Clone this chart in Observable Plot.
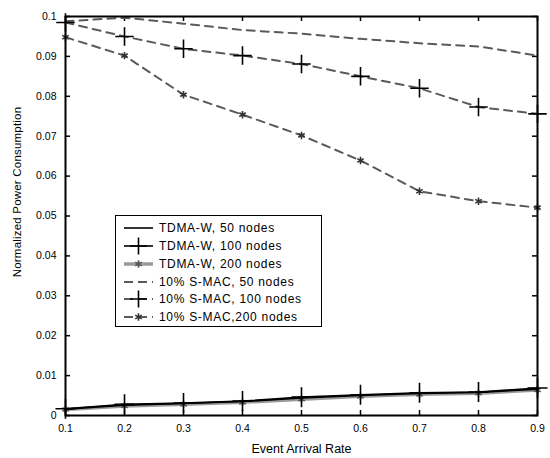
<!DOCTYPE html>
<html><head><meta charset="utf-8">
<script src="https://cdn.jsdelivr.net/npm/d3@7"></script>
<script src="https://cdn.jsdelivr.net/npm/@observablehq/plot@0.6"></script>
<style>
body{margin:0;background:#fff;}
#wrap{position:relative;width:550px;height:458px;font-family:"Liberation Sans",Arial,sans-serif;}
#legend{position:absolute;left:115px;top:215px;width:207px;height:112px;border:1.8px solid #000;background:#fff;box-sizing:border-box;}
.row{position:absolute;left:0;height:18px;width:100%;}
.row svg{position:absolute;left:7px;top:0;}
.row span{position:absolute;left:43px;top:1px;font-size:12px;letter-spacing:0.7px;line-height:16px;color:#000;white-space:nowrap;}
#ylab{position:absolute;left:17px;top:192px;transform:translate(-50%,-50%) rotate(-90deg);font-size:11.5px;letter-spacing:0.2px;white-space:nowrap;color:#000;line-height:13px;}
</style>
</head><body>
<div id="wrap"></div>
<script>
// ---- data ----
const rates = [0.1, 0.2, 0.3, 0.4, 0.5, 0.6, 0.7, 0.8, 0.9];
const tdma50  = [0.0016, 0.0026, 0.0030, 0.0035, 0.0044, 0.0050, 0.0055, 0.0058, 0.0066];
const tdma100 = [0.0017, 0.0028, 0.0031, 0.0036, 0.0046, 0.0052, 0.0057, 0.0059, 0.0069];
const tdma200 = [0.0015, 0.0024, 0.0028, 0.0033, 0.0041, 0.0048, 0.0053, 0.0056, 0.0064];
const smac50  = [0.0988, 0.0997, 0.0982, 0.0966, 0.0957, 0.0944, 0.0933, 0.0925, 0.0902];
const smac100 = [0.0985, 0.0950, 0.0919, 0.0902, 0.0881, 0.0850, 0.0820, 0.0773, 0.0756];
const smac200 = [0.0948, 0.0902, 0.0804, 0.0754, 0.0702, 0.0639, 0.0562, 0.0537, 0.0521];
const seriesLabels = ["TDMA-W, 50 nodes", "TDMA-W, 100 nodes", "TDMA-W, 200 nodes",
  "10% S-MAC, 50 nodes", "10% S-MAC, 100 nodes", "10% S-MAC,200 nodes"];
const xTicks = [0.1, 0.2, 0.3, 0.4, 0.5, 0.6, 0.7, 0.8, 0.9];
const xTickLabels = ["0.1", "0.2", "0.3", "0.4", "0.5", "0.6", "0.7", "0.8", "0.9"];
const yTicks = [0, 0.01, 0.02, 0.03, 0.04, 0.05, 0.06, 0.07, 0.08, 0.09, 0.1];
const yTickLabels = ["0", "0.01", "0.02", "0.03", "0.04", "0.05", "0.06", "0.07", "0.08", "0.09", "0.1"];
const xLabel = "Event Arrival Rate";
const yLabel = "Normalized Power Consumption";

// ---- styles ----
const seriesValues = [tdma50, tdma100, tdma200, smac50, smac100, smac200];
const styles = [
  {stroke: "#000", width: 1.6, dash: null, symbol: null, r: 0, mstroke: "#000"},
  {stroke: "#000", width: 1.6, dash: null, symbol: "plus", r: 6.5, mstroke: "#000"},
  {stroke: "#9a9a9a", width: 3.5, dash: null, symbol: "asterisk", r: 3.5, mstroke: "#555"},
  {stroke: "#5a5a5a", width: 2, dash: "8,6", symbol: null, r: 0, mstroke: "#000"},
  {stroke: "#5a5a5a", width: 2, dash: "8,6", symbol: "plus", r: 6, mstroke: "#000"},
  {stroke: "#5a5a5a", width: 2, dash: "8,6", symbol: "asterisk", r: 3.5, mstroke: "#333"}
];
const drawOrder = [2, 0, 1, 3, 4, 5];

const W = 550, H = 458, mL = 65, mR = 13, mT = 16, mB = 43;
const pw = W - mL - mR, ph = H - mT - mB, tk = 5;

const marks = [];
// inward ticks
marks.push(Plot.tickY(yTicks, {y: d => d, insetRight: pw - tk, stroke: "#000", strokeWidth: 1.5}));
marks.push(Plot.tickY(yTicks, {y: d => d, insetLeft: pw - tk, stroke: "#000", strokeWidth: 1.5}));
marks.push(Plot.tickX(xTicks, {x: d => d, insetTop: ph - tk, stroke: "#000", strokeWidth: 1.5}));
marks.push(Plot.tickX(xTicks, {x: d => d, insetBottom: ph - tk, stroke: "#000", strokeWidth: 1.5}));
marks.push(Plot.axisX({ticks: xTicks, tickSize: 0, tickPadding: 9, label: null,
  tickFormat: d => xTickLabels[xTicks.findIndex(t => Math.abs(t - d) < 1e-9)]}));
marks.push(Plot.axisY({ticks: yTicks, tickSize: 0, tickPadding: 9, label: null,
  tickFormat: d => yTickLabels[yTicks.findIndex(t => Math.abs(t - d) < 1e-9)]}));

for (const i of drawOrder) {
  const s = styles[i];
  const data = rates.map((x, j) => ({x, y: seriesValues[i][j]}));
  marks.push(Plot.line(data, {x: "x", y: "y", stroke: s.stroke, strokeWidth: s.width,
    strokeDasharray: s.dash, curve: "linear"}));
  if (s.symbol) marks.push(Plot.dot(data, {x: "x", y: "y", symbol: s.symbol, r: s.r,
    stroke: s.mstroke, strokeWidth: 1.6, fill: "none"}));
}
marks.push(Plot.frame({stroke: "#000", strokeWidth: 2}));
marks.push(Plot.text([xLabel], {frameAnchor: "bottom", dy: 33, lineAnchor: "middle", textAnchor: "middle",
  fontSize: 12.5, fill: "#000", style: "letter-spacing:1.3px"}));

const chart = Plot.plot({
  width: W, height: H,
  marginLeft: mL, marginRight: mR, marginTop: mT, marginBottom: mB,
  x: {domain: [0.1, 0.9]},
  y: {domain: [0, 0.1]},
  style: {fontFamily: "'Liberation Sans', Arial, sans-serif", fontSize: "10.5px", color: "#000", background: "#fff"},
  marks
});
const wrap = document.getElementById("wrap");
wrap.appendChild(chart);

// y axis label
const ylab = document.createElement("div");
ylab.id = "ylab";
ylab.textContent = yLabel;
wrap.appendChild(ylab);

// ---- legend ----
const legend = document.createElement("div");
legend.id = "legend";
const rowTops = [3, 21, 39, 57, 74, 92];
seriesLabels.forEach((lab, i) => {
  const s = styles[i];
  const row = document.createElement("div");
  row.className = "row";
  row.style.top = rowTops[i] + "px";
  const svg = d3.create("svg").attr("width", 32).attr("height", 18);
  svg.append("line").attr("x1", 1).attr("x2", 30).attr("y1", 9).attr("y2", 9)
    .attr("stroke", s.stroke).attr("stroke-width", s.width)
    .attr("stroke-dasharray", s.dash ? "9,5" : null);
  if (s.symbol) {
    const rr = s.symbol === "plus" ? 5.5 : s.r;
    const sym = s.symbol === "plus" ? d3.symbolPlus : d3.symbolAsterisk;
    svg.append("path").attr("transform", "translate(15.5,9)")
      .attr("d", d3.symbol(sym, Math.PI * rr * rr)())
      .attr("stroke", s.mstroke).attr("stroke-width", 1.6).attr("fill", "none");
  }
  row.appendChild(svg.node());
  const span = document.createElement("span");
  span.textContent = lab;
  row.appendChild(span);
  legend.appendChild(row);
});
wrap.appendChild(legend);
</script>
</body></html>
